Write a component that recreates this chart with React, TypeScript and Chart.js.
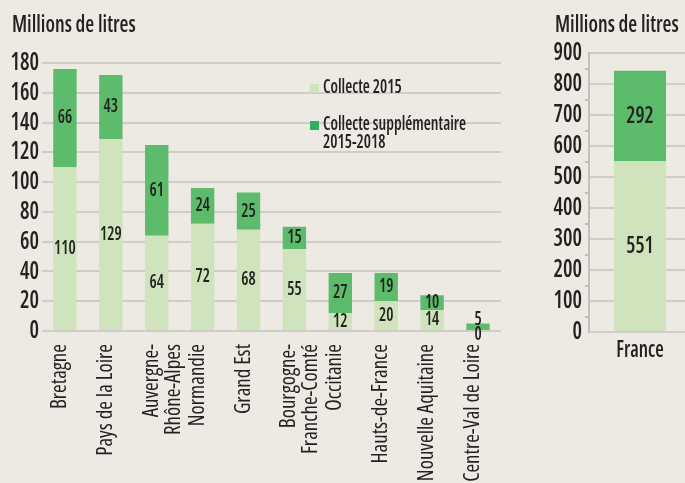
import React, { useEffect, useRef } from 'react';
import { Chart, registerables } from 'chart.js';

Chart.register(...registerables);

const FAMILY = "'Open Sans', 'DejaVu Sans', sans-serif";
const WEIGHT = '600 condensed';
const SX = 0.85;
const ROTATED_SHIFT = -5;

const regions: (string | string[])[] = [
  'Bretagne',
  'Pays de la Loire',
  ['Auvergne-', 'Rhône-Alpes'],
  'Normandie',
  'Grand Est',
  ['Bourgogne-', 'Franche-Comté'],
  'Occitanie',
  'Hauts-de-France',
  'Nouvelle Aquitaine',
  'Centre-Val de Loire',
];
const collecte2015 = [110, 129, 64, 72, 68, 55, 12, 20, 14, 0];
const supplementaire = [66, 43, 61, 24, 25, 15, 27, 19, 10, 5];

const franceLabels = ['France'];
const france2015 = [551];
const franceSupplementaire = [292];

const seriesNames = ['Collecte 2015', 'Collecte supplémentaire 2015-2018'];
const legendLines = [['Collecte 2015'], ['Collecte supplémentaire', '2015-2018']];
const unitTitle = 'Millions de litres';

const LIGHT = '#CFE3BC';
const DARK = '#5CBC6B';
const LEGEND_DARK = '#2FB05F';
const GRID = '#CFCDC9';
const TEXT = '#222222';
const BG = '#EDEAE4';

// draw horizontal canvas text slightly condensed around its anchor point
const condense = {
  id: 'condense',
  beforeInit(chart: any) {
    const ctx = chart.ctx;
    const orig = ctx.fillText.bind(ctx);
    ctx.fillText = (text: string, x: number, y: number, maxWidth?: number) => {
      const t = ctx.getTransform();
      const rotated = Math.abs(t.b) > 0.01;
      const s = rotated ? 1 : SX;
      ctx.save();
      ctx.translate(x, y + (rotated ? ROTATED_SHIFT : 0));
      ctx.scale(s, 1);
      if (maxWidth === undefined || maxWidth === null) orig(text, 0, 0);
      else orig(text, 0, 0, maxWidth / s);
      ctx.restore();
    };
  },
};

const valueLabels = {
  id: 'valueLabels',
  afterDatasetsDraw(chart: any, _args: any, opts: any) {
    const ctx = chart.ctx;
    ctx.save();
    ctx.font = `${WEIGHT} ${opts.size || 19}px ${FAMILY}`;
    ctx.fillStyle = TEXT;
    ctx.textAlign = 'center';
    ctx.textBaseline = 'middle';
    chart.data.datasets.forEach((ds: any, di: number) => {
      const meta = chart.getDatasetMeta(di);
      meta.data.forEach((el: any, i: number) => {
        const v = ds.data[i];
        const p = el.getProps(['x', 'y', 'base'], true);
        const h = Math.abs(p.base - p.y);
        let cy = (p.y + p.base) / 2;
        if (v === 0) cy = p.base + 4;
        else if (h < 12 && di === 1) cy = p.y - 4;
        ctx.fillText(String(v), p.x, cy);
      });
    });
    ctx.restore();
  },
};

function makeDatasets(a: number[], b: number[], bp: number) {
  return [
    { label: seriesNames[0], data: a, backgroundColor: LIGHT, borderWidth: 0, barPercentage: bp, categoryPercentage: 1 },
    { label: seriesNames[1], data: b, backgroundColor: DARK, borderWidth: 0, barPercentage: bp, categoryPercentage: 1 },
  ];
}

export default function App() {
  const leftRef = useRef<HTMLCanvasElement>(null);
  const rightRef = useRef<HTMLCanvasElement>(null);

  useEffect(() => {
    const left = new Chart(leftRef.current!, {
      type: 'bar',
      data: { labels: regions as any, datasets: makeDatasets(collecte2015, supplementaire, 0.51) as any },
      plugins: [condense, valueLabels],
      options: {
        animation: false,
        responsive: false,
        layout: { padding: { top: 63, left: 0, right: 0, bottom: 0 } },
        plugins: { legend: { display: false }, tooltip: { enabled: false }, valueLabels: { size: 19 } } as any,
        scales: {
          x: {
            stacked: true,
            grid: { display: false, drawTicks: false },
            border: { display: false },
            ticks: {
              minRotation: 90,
              maxRotation: 90,
              autoSkip: false,
              color: TEXT,
              font: { family: FAMILY, weight: '500 condensed' as any, size: 21, lineHeight: '22px' as any },
              padding: 13,
            },
            afterFit: (s: any) => { s.height = 483 - 331; },
          },
          y: {
            stacked: true,
            min: 0,
            max: 180,
            grid: { color: GRID, lineWidth: 2, drawTicks: false },
            border: { display: false },
            ticks: { stepSize: 20, autoSkip: false, color: TEXT, font: { family: FAMILY, weight: WEIGHT as any, size: 25 }, padding: 3 },
            afterFit: (s: any) => { s.width = 42; },
          },
        },
      },
    });

    const right = new Chart(rightRef.current!, {
      type: 'bar',
      data: { labels: franceLabels, datasets: makeDatasets(france2015, franceSupplementaire, 0.51) as any },
      plugins: [condense, valueLabels],
      options: {
        animation: false,
        responsive: false,
        layout: { padding: { top: 53, left: 0, right: 0, bottom: 0 } },
        plugins: { legend: { display: false }, tooltip: { enabled: false }, valueLabels: { size: 24 } } as any,
        scales: {
          x: {
            stacked: true,
            grid: { display: false, drawTicks: false },
            border: { display: false },
            ticks: { color: TEXT, font: { family: FAMILY, weight: WEIGHT as any, size: 23 }, padding: 5 },
            afterFit: (s: any) => { s.height = 483 - 332; },
          },
          y: {
            stacked: true,
            min: 0,
            max: 900,
            grid: {
              color: (c: any) => (c.tick && c.tick.value % 100 === 0 ? GRID : 'transparent'),
              tickColor: (c: any) => (c.tick && c.tick.value % 100 !== 0 ? '#BDBBB7' : 'transparent'),
              lineWidth: 2,
              tickLength: 4,
              drawTicks: true,
            },
            border: { display: true, color: '#C2C0BC', width: 2 },
            ticks: {
              stepSize: 50,
              autoSkip: false,
              color: TEXT,
              font: { family: FAMILY, weight: WEIGHT as any, size: 25 },
              padding: 3,
              callback: (v: any) => (Number(v) % 100 === 0 ? String(v) : ''),
            },
            afterFit: (s: any) => { s.width = 49; },
          },
        },
      },
    });

    return () => {
      left.destroy();
      right.destroy();
    };
  }, []);

  const condensedText: React.CSSProperties = {
    position: 'absolute',
    fontFamily: FAMILY,
    fontWeight: 600,
    fontStretch: '75%',
    color: TEXT,
    whiteSpace: 'nowrap',
    transform: `scaleX(${SX})`,
    transformOrigin: 'left top',
  };
  const titleStyle: React.CSSProperties = { ...condensedText, fontSize: 24, lineHeight: '24px' };
  const legendText: React.CSSProperties = { ...condensedText, fontSize: 19, lineHeight: '18px' };

  return (
    <div style={{ position: 'fixed', left: 0, top: 0, width: 685, height: 483, background: BG, overflow: 'hidden' }}>
      <canvas ref={leftRef} width={513} height={483} style={{ position: 'absolute', left: 0, top: 0 }} />
      <canvas ref={rightRef} width={151} height={483} style={{ position: 'absolute', left: 540, top: 0 }} />
      <div style={{ ...titleStyle, left: 12, top: 11 }}>{unitTitle}</div>
      <div style={{ ...titleStyle, left: 555, top: 11 }}>{unitTitle}</div>
      <div style={{ position: 'absolute', left: 310, top: 84, width: 9, height: 9, background: LIGHT }} />
      <div style={{ ...legendText, left: 323, top: 77 }}>{legendLines[0][0]}</div>
      <div style={{ position: 'absolute', left: 310, top: 121, width: 9, height: 9, background: LEGEND_DARK }} />
      <div style={{ ...legendText, left: 323, top: 114 }}>
        {legendLines[1][0]}
        <br />
        {legendLines[1][1]}
      </div>
    </div>
  );
}
